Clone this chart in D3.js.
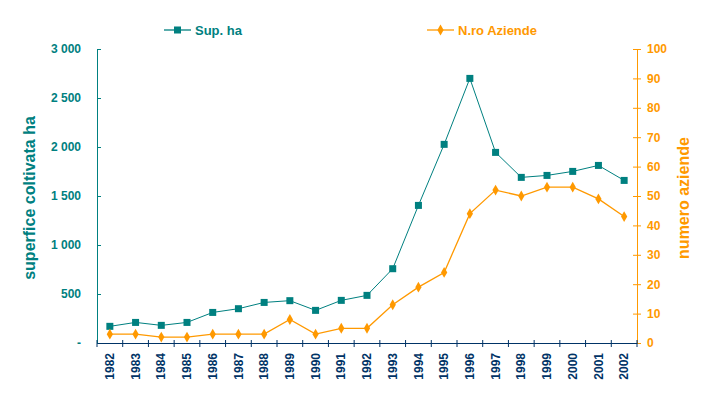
<!DOCTYPE html>
<html>
<head>
<meta charset="utf-8">
<script src="https://cdn.jsdelivr.net/npm/d3@7"></script>
<style>
    body { margin: 0; background: #fff; }
    text { font-family: "Liberation Sans", Arial, sans-serif; font-weight: bold; }
</style>
</head>
<body>
<div id="chart"></div>
<script>
// data
let years = ["1982","1983","1984","1985","1986","1987","1988","1989","1990","1991","1992",
             "1993","1994","1995","1996","1997","1998","1999","2000","2001","2002"];
let supHa = [170, 210, 180, 210, 312, 350, 414, 432, 333, 435, 486,
             758, 1404, 2027, 2700, 1945, 1690, 1710, 1751, 1812, 1659];
let aziende = [3, 3, 2, 2, 3, 3, 3, 8, 3, 5, 5,
               13, 19, 24, 44, 52, 50, 53, 53, 49, 43];
let leftTicks = [0, 500, 1000, 1500, 2000, 2500, 3000];
let rightTicks = [0, 10, 20, 30, 40, 50, 60, 70, 80, 90, 100];

let teal = "#008080", orange = "#FF9900", navy = "#003366";

let W = 715, H = 398;
let margin = {top: 49, right: 78, bottom: 55, left: 97};
let width = W - margin.left - margin.right;
let height = H - margin.top - margin.bottom;

let svg = d3.select("#chart").append("svg")
    .attr("width", W)
    .attr("height", H);

let g = svg.append("g")
    .attr("transform", `translate(${margin.left}, ${margin.top})`);

// scales
let x = d3.scaleBand().domain(years).range([0, width]);
let yL = d3.scaleLinear().domain([0, 3000]).range([height, 0]);
let yR = d3.scaleLinear().domain([0, 100]).range([height, 0]);

let fmt = d => d === 0 ? "-" : d3.format(",")(d).replace(",", " ");

// left axis
let leftAxis = g.append("g")
    .call(d3.axisLeft(yL).tickValues(leftTicks).tickFormat(fmt).tickSizeInner(4).tickSizeOuter(0).tickPadding(12));
leftAxis.selectAll(".tick line").attr("x2", 4);
leftAxis.selectAll("line, path").attr("stroke", teal);
leftAxis.selectAll("text").attr("fill", teal).attr("font-size", 12);

// right axis
let rightAxis = g.append("g")
    .attr("transform", `translate(${width}, 0)`)
    .call(d3.axisRight(yR).tickValues(rightTicks).tickSizeInner(4).tickSizeOuter(0).tickPadding(6));
rightAxis.selectAll(".tick line").attr("x1", -4);
rightAxis.selectAll("line, path").attr("stroke", orange);
rightAxis.selectAll("text").attr("fill", orange).attr("font-size", 12);

// x axis, ticks on band edges
let xAxis = g.append("g")
    .attr("transform", `translate(0, ${height})`)
    .call(d3.axisBottom(x).tickSize(0).tickPadding(0));
xAxis.select(".domain").attr("stroke", navy);
xAxis.selectAll("text")
    .attr("fill", navy)
    .attr("font-size", 12)
    .attr("transform", "rotate(-90)")
    .attr("text-anchor", "end")
    .attr("x", -10)
    .attr("y", 0)
    .attr("dy", "0.35em");
xAxis.selectAll(".edge")
    .data(years.concat(["end"]))
    .join("line")
    .attr("class", "edge")
    .attr("x1", (d, i) => i * x.step())
    .attr("x2", (d, i) => i * x.step())
    .attr("y1", -3)
    .attr("y2", 4)
    .attr("stroke", navy);

// axis titles
svg.append("text")
    .attr("transform", `translate(35, ${margin.top + height / 2 + 2}) rotate(-90)`)
    .attr("text-anchor", "middle")
    .attr("fill", teal)
    .attr("font-size", 16)
    .text("superfice coltivata ha");

svg.append("text")
    .attr("transform", `translate(689, ${margin.top + height / 2 + 2}) rotate(-90)`)
    .attr("text-anchor", "middle")
    .attr("fill", orange)
    .attr("font-size", 16)
    .text("numero aziende");

let cx = d => x(d) + x.bandwidth() / 2;

// lines
g.append("path")
    .datum(supHa)
    .attr("fill", "none")
    .attr("stroke", teal)
    .attr("stroke-width", 1)
    .attr("d", d3.line().x((d, i) => cx(years[i])).y(d => yL(d)));

g.append("path")
    .datum(aziende)
    .attr("fill", "none")
    .attr("stroke", orange)
    .attr("stroke-width", 1.3)
    .attr("d", d3.line().x((d, i) => cx(years[i])).y(d => yR(d)));

// markers
g.selectAll(".sq")
    .data(supHa)
    .join("rect")
    .attr("class", "sq")
    .attr("x", (d, i) => cx(years[i]) - 3.5)
    .attr("y", d => yL(d) - 3.5)
    .attr("width", 7)
    .attr("height", 7)
    .attr("fill", teal);

let diamond = d3.symbol().type(d3.symbolDiamond).size(34);
g.selectAll(".dm")
    .data(aziende)
    .join("path")
    .attr("class", "dm")
    .attr("transform", (d, i) => `translate(${cx(years[i])}, ${yR(d)})`)
    .attr("d", diamond)
    .attr("fill", orange);

// legend
let legend = [
    {name: "Sup. ha", color: teal, x: 164, shape: "square"},
    {name: "N.ro Aziende", color: orange, x: 427, shape: "diamond"}
];
let lg = svg.selectAll(".legend")
    .data(legend)
    .join("g")
    .attr("class", "legend")
    .attr("transform", d => `translate(${d.x}, 30)`);
lg.append("line")
    .attr("x1", 0).attr("x2", 27)
    .attr("stroke", d => d.color)
    .attr("stroke-width", 1.3);
lg.filter(d => d.shape === "square").append("rect")
    .attr("x", 10).attr("y", -3.5).attr("width", 7).attr("height", 7)
    .attr("fill", d => d.color);
lg.filter(d => d.shape === "diamond").append("path")
    .attr("transform", "translate(13.5, 0)")
    .attr("d", diamond)
    .attr("fill", d => d.color);
lg.append("text")
    .attr("x", 31)
    .attr("dy", "0.35em")
    .attr("fill", d => d.color)
    .attr("font-size", 13)
    .text(d => d.name);
</script>
</body>
</html>
